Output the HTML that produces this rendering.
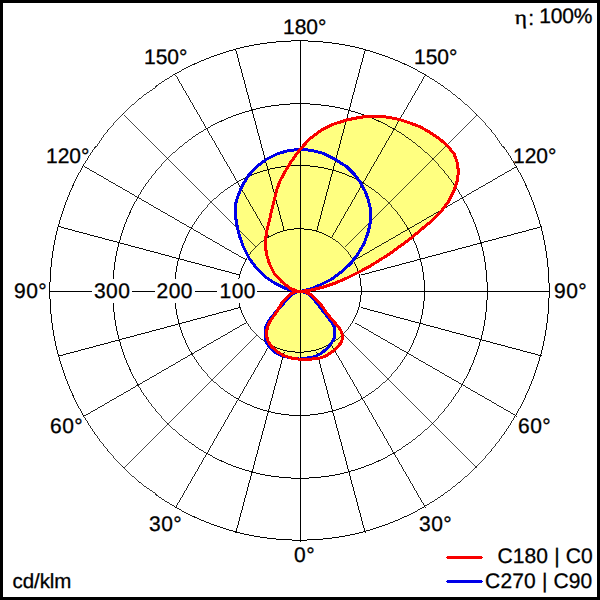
<!DOCTYPE html>
<html><head><meta charset="utf-8"><title>Polar diagram</title>
<style>
html,body{margin:0;padding:0;background:#fff;}
body{width:600px;height:600px;overflow:hidden;font-family:"Liberation Sans",sans-serif;}
svg{display:block;position:absolute;left:0;top:0;}
text{fill:#000;font-family:"Liberation Sans",sans-serif;text-rendering:geometricPrecision;}
</style></head><body>
<svg width="600" height="600" viewBox="0 0 600 600">
<rect x="0" y="0" width="600" height="600" fill="#fff"/>
<g fill="#ffff80" stroke="none">
<polygon points="300.5,291.5 293.3,290.8 285.0,288.3 275.0,283.3 265.0,276.7 256.7,268.3 249.2,258.3 243.3,246.7 239.2,235.0 236.5,223.3 235.2,213.0 235.3,205.0 237.5,197.5 241.7,186.7 248.3,175.8 256.7,166.7 266.7,159.2 277.5,153.8 289.0,150.5 300.0,149.5 311.0,150.2 323.3,153.3 335.0,159.2 346.7,166.7 355.0,175.0 360.0,181.7 365.0,191.0 368.3,200.0 370.8,210.0 370.8,220.0 368.3,231.7 364.2,243.3 358.3,253.3 350.8,263.3 341.7,271.7 331.7,279.2 320.0,285.0 310.0,289.2 300.5,291.5"/>
<polygon points="300.5,291.5 311.8,289.9 323.5,287.0 335.4,283.0 347.1,278.0 358.7,272.2 370.4,265.9 380.4,259.7 390.4,253.3 402.1,244.7 412.1,237.2 422.1,228.8 432.1,220.5 440.4,212.2 448.3,201.7 454.2,190.0 457.5,180.0 458.3,171.5 457.5,163.3 454.2,154.2 448.3,146.7 440.0,139.2 430.0,132.5 420.0,126.7 410.0,123.0 400.0,119.7 390.0,117.5 380.0,116.3 370.0,116.1 360.0,117.3 346.7,120.0 333.3,124.2 321.7,130.0 310.0,138.5 300.0,149.5 291.7,160.8 285.0,171.7 280.0,181.0 276.7,190.0 274.2,200.0 271.7,210.0 269.2,221.5 266.5,232.0 265.3,243.3 266.3,253.3 269.2,263.3 274.2,273.3 281.7,281.7 290.0,288.3 296.7,291.0 300.5,291.5"/>
<polygon points="300.5,291.4 295.5,292.3 291.0,295.3 287.0,299.6 283.0,304.0 279.5,308.2 275.5,312.5 272.0,316.5 268.8,321.0 266.3,325.5 265.0,331.0 265.0,337.0 266.6,342.5 270.2,348.0 275.5,352.6 281.8,355.6 289.2,357.7 295.0,358.8 300.4,359.1 305.5,358.2 314.7,356.7 321.3,353.3 327.2,348.3 331.3,343.3 334.2,338.3 335.0,333.3 334.7,328.3 333.0,324.2 330.0,320.0 326.5,315.5 323.0,311.0 319.5,306.5 316.0,302.0 312.5,297.8 308.5,294.3 304.5,292.2 300.5,291.4"/>
<polygon points="300.5,291.4 294.2,292.1 289.2,295.0 285.0,299.2 281.7,303.3 279.2,307.5 276.7,311.7 273.8,315.8 271.0,320.0 268.3,325.0 266.7,330.8 266.7,336.7 268.3,341.7 271.7,346.7 276.7,351.2 282.5,355.0 289.2,357.5 295.0,358.8 300.4,359.2 306.3,359.2 318.0,358.8 326.3,355.8 334.7,350.0 341.3,342.5 343.0,336.7 340.7,330.0 336.3,324.4 333.0,320.8 329.7,316.7 326.3,312.5 323.0,307.5 319.7,303.3 315.9,299.2 311.3,295.0 306.3,292.1 300.5,291.4"/>
</g>
<g fill="none" stroke="#000" stroke-width="1" shape-rendering="crispEdges">
<path d="M361.20 290.18A61.7 61.7 0 0 1 360.94 296.20" stroke-width="0.999"/><path d="M360.99 295.56A61.7 61.7 0 0 1 360.21 301.53" stroke-width="0.991"/><path d="M360.32 300.90A61.7 61.7 0 0 1 359.01 306.78" stroke-width="0.976"/><path d="M359.18 306.16A61.7 61.7 0 0 1 357.37 311.91" stroke-width="0.954"/><path d="M357.59 311.30A61.7 61.7 0 0 1 355.28 316.87" stroke-width="0.924"/><path d="M355.55 316.28A61.7 61.7 0 0 1 352.77 321.63" stroke-width="0.887"/><path d="M353.09 321.07A61.7 61.7 0 0 1 349.86 326.15" stroke-width="0.843"/><path d="M350.23 325.62A61.7 61.7 0 0 1 346.56 330.41" stroke-width="0.793"/><path d="M346.97 329.91A61.7 61.7 0 0 1 342.90 334.36" stroke-width="0.737"/><path d="M343.36 333.90A61.7 61.7 0 0 1 338.91 337.97" stroke-width="0.737"/><path d="M339.41 337.56A61.7 61.7 0 0 1 334.62 341.23" stroke-width="0.793"/><path d="M335.15 340.86A61.7 61.7 0 0 1 330.07 344.09" stroke-width="0.843"/><path d="M330.63 343.77A61.7 61.7 0 0 1 325.28 346.55" stroke-width="0.887"/><path d="M325.87 346.28A61.7 61.7 0 0 1 320.30 348.59" stroke-width="0.924"/><path d="M320.91 348.37A61.7 61.7 0 0 1 315.16 350.18" stroke-width="0.954"/><path d="M315.78 350.01A61.7 61.7 0 0 1 309.90 351.32" stroke-width="0.976"/><path d="M310.53 351.21A61.7 61.7 0 0 1 304.56 351.99" stroke-width="0.991"/><path d="M305.20 351.94A61.7 61.7 0 0 1 299.18 352.20" stroke-width="0.999"/><path d="M299.82 352.20A61.7 61.7 0 0 1 293.80 351.94" stroke-width="0.999"/><path d="M294.44 351.99A61.7 61.7 0 0 1 288.47 351.21" stroke-width="0.991"/><path d="M289.10 351.32A61.7 61.7 0 0 1 283.22 350.01" stroke-width="0.976"/><path d="M283.84 350.18A61.7 61.7 0 0 1 278.09 348.37" stroke-width="0.954"/><path d="M278.70 348.59A61.7 61.7 0 0 1 273.13 346.28" stroke-width="0.924"/><path d="M273.72 346.55A61.7 61.7 0 0 1 268.37 343.77" stroke-width="0.887"/><path d="M268.93 344.09A61.7 61.7 0 0 1 263.85 340.86" stroke-width="0.843"/><path d="M264.38 341.23A61.7 61.7 0 0 1 259.59 337.56" stroke-width="0.793"/><path d="M260.09 337.97A61.7 61.7 0 0 1 255.64 333.90" stroke-width="0.737"/><path d="M256.10 334.36A61.7 61.7 0 0 1 252.03 329.91" stroke-width="0.737"/><path d="M252.44 330.41A61.7 61.7 0 0 1 248.77 325.62" stroke-width="0.793"/><path d="M249.14 326.15A61.7 61.7 0 0 1 245.91 321.07" stroke-width="0.843"/><path d="M246.23 321.63A61.7 61.7 0 0 1 243.45 316.28" stroke-width="0.887"/><path d="M243.72 316.87A61.7 61.7 0 0 1 241.41 311.30" stroke-width="0.924"/><path d="M241.63 311.91A61.7 61.7 0 0 1 239.82 306.16" stroke-width="0.954"/><path d="M239.99 306.78A61.7 61.7 0 0 1 238.68 300.90" stroke-width="0.976"/><path d="M238.79 301.53A61.7 61.7 0 0 1 238.01 295.56" stroke-width="0.991"/><path d="M238.06 296.20A61.7 61.7 0 0 1 237.80 290.18" stroke-width="0.999"/><path d="M237.80 290.82A61.7 61.7 0 0 1 238.06 284.80" stroke-width="0.999"/><path d="M238.01 285.44A61.7 61.7 0 0 1 238.79 279.47" stroke-width="0.991"/><path d="M238.68 280.10A61.7 61.7 0 0 1 239.99 274.22" stroke-width="0.976"/><path d="M239.82 274.84A61.7 61.7 0 0 1 241.63 269.09" stroke-width="0.954"/><path d="M241.41 269.70A61.7 61.7 0 0 1 243.72 264.13" stroke-width="0.924"/><path d="M243.45 264.72A61.7 61.7 0 0 1 246.23 259.37" stroke-width="0.887"/><path d="M245.91 259.93A61.7 61.7 0 0 1 249.14 254.85" stroke-width="0.843"/><path d="M248.77 255.38A61.7 61.7 0 0 1 252.44 250.59" stroke-width="0.793"/><path d="M252.03 251.09A61.7 61.7 0 0 1 256.10 246.64" stroke-width="0.737"/><path d="M255.64 247.10A61.7 61.7 0 0 1 260.09 243.03" stroke-width="0.737"/><path d="M259.59 243.44A61.7 61.7 0 0 1 264.38 239.77" stroke-width="0.793"/><path d="M263.85 240.14A61.7 61.7 0 0 1 268.93 236.91" stroke-width="0.843"/><path d="M268.37 237.23A61.7 61.7 0 0 1 273.72 234.45" stroke-width="0.887"/><path d="M273.13 234.72A61.7 61.7 0 0 1 278.70 232.41" stroke-width="0.924"/><path d="M278.09 232.63A61.7 61.7 0 0 1 283.84 230.82" stroke-width="0.954"/><path d="M283.22 230.99A61.7 61.7 0 0 1 289.10 229.68" stroke-width="0.976"/><path d="M288.47 229.79A61.7 61.7 0 0 1 294.44 229.01" stroke-width="0.991"/><path d="M293.80 229.06A61.7 61.7 0 0 1 299.82 228.80" stroke-width="0.999"/><path d="M299.18 228.80A61.7 61.7 0 0 1 305.20 229.06" stroke-width="0.999"/><path d="M304.56 229.01A61.7 61.7 0 0 1 310.53 229.79" stroke-width="0.991"/><path d="M309.90 229.68A61.7 61.7 0 0 1 315.78 230.99" stroke-width="0.976"/><path d="M315.16 230.82A61.7 61.7 0 0 1 320.91 232.63" stroke-width="0.954"/><path d="M320.30 232.41A61.7 61.7 0 0 1 325.87 234.72" stroke-width="0.924"/><path d="M325.28 234.45A61.7 61.7 0 0 1 330.63 237.23" stroke-width="0.887"/><path d="M330.07 236.91A61.7 61.7 0 0 1 335.15 240.14" stroke-width="0.843"/><path d="M334.62 239.77A61.7 61.7 0 0 1 339.41 243.44" stroke-width="0.793"/><path d="M338.91 243.03A61.7 61.7 0 0 1 343.36 247.10" stroke-width="0.737"/><path d="M342.90 246.64A61.7 61.7 0 0 1 346.97 251.09" stroke-width="0.737"/><path d="M346.56 250.59A61.7 61.7 0 0 1 350.23 255.38" stroke-width="0.793"/><path d="M349.86 254.85A61.7 61.7 0 0 1 353.09 259.93" stroke-width="0.843"/><path d="M352.77 259.37A61.7 61.7 0 0 1 355.55 264.72" stroke-width="0.887"/><path d="M355.28 264.13A61.7 61.7 0 0 1 357.59 269.70" stroke-width="0.924"/><path d="M357.37 269.09A61.7 61.7 0 0 1 359.18 274.84" stroke-width="0.954"/><path d="M359.01 274.22A61.7 61.7 0 0 1 360.32 280.10" stroke-width="0.976"/><path d="M360.21 279.47A61.7 61.7 0 0 1 360.99 285.44" stroke-width="0.991"/><path d="M360.94 284.80A61.7 61.7 0 0 1 361.20 290.82" stroke-width="0.999"/><path d="M424.44 289.85A124.94 124.94 0 0 1 423.91 302.04" stroke-width="0.999"/><path d="M424.02 300.74A124.94 124.94 0 0 1 422.43 312.84" stroke-width="0.991"/><path d="M422.65 311.55A124.94 124.94 0 0 1 420.01 323.47" stroke-width="0.976"/><path d="M420.35 322.20A124.94 124.94 0 0 1 416.68 333.85" stroke-width="0.954"/><path d="M417.13 332.62A124.94 124.94 0 0 1 412.46 343.89" stroke-width="0.924"/><path d="M413.01 342.71A124.94 124.94 0 0 1 407.37 353.54" stroke-width="0.887"/><path d="M408.03 352.40A124.94 124.94 0 0 1 401.47 362.70" stroke-width="0.843"/><path d="M402.22 361.63A124.94 124.94 0 0 1 394.79 371.31" stroke-width="0.793"/><path d="M395.63 370.31A124.94 124.94 0 0 1 387.38 379.31" stroke-width="0.737"/><path d="M388.31 378.38A124.94 124.94 0 0 1 379.31 386.63" stroke-width="0.737"/><path d="M380.31 385.79A124.94 124.94 0 0 1 370.63 393.22" stroke-width="0.793"/><path d="M371.70 392.47A124.94 124.94 0 0 1 361.40 399.03" stroke-width="0.843"/><path d="M362.54 398.37A124.94 124.94 0 0 1 351.71 404.01" stroke-width="0.887"/><path d="M352.89 403.46A124.94 124.94 0 0 1 341.62 408.13" stroke-width="0.924"/><path d="M342.85 407.68A124.94 124.94 0 0 1 331.20 411.35" stroke-width="0.954"/><path d="M332.47 411.01A124.94 124.94 0 0 1 320.55 413.65" stroke-width="0.976"/><path d="M321.84 413.43A124.94 124.94 0 0 1 309.74 415.02" stroke-width="0.991"/><path d="M311.04 414.91A124.94 124.94 0 0 1 298.85 415.44" stroke-width="0.999"/><path d="M300.15 415.44A124.94 124.94 0 0 1 287.96 414.91" stroke-width="0.999"/><path d="M289.26 415.02A124.94 124.94 0 0 1 277.16 413.43" stroke-width="0.991"/><path d="M278.45 413.65A124.94 124.94 0 0 1 266.53 411.01" stroke-width="0.976"/><path d="M267.80 411.35A124.94 124.94 0 0 1 256.15 407.68" stroke-width="0.954"/><path d="M257.38 408.13A124.94 124.94 0 0 1 246.11 403.46" stroke-width="0.924"/><path d="M247.29 404.01A124.94 124.94 0 0 1 236.46 398.37" stroke-width="0.887"/><path d="M237.60 399.03A124.94 124.94 0 0 1 227.30 392.47" stroke-width="0.843"/><path d="M228.37 393.22A124.94 124.94 0 0 1 218.69 385.79" stroke-width="0.793"/><path d="M219.69 386.63A124.94 124.94 0 0 1 210.69 378.38" stroke-width="0.737"/><path d="M211.62 379.31A124.94 124.94 0 0 1 203.37 370.31" stroke-width="0.737"/><path d="M204.21 371.31A124.94 124.94 0 0 1 196.78 361.63" stroke-width="0.793"/><path d="M197.53 362.70A124.94 124.94 0 0 1 190.97 352.40" stroke-width="0.843"/><path d="M191.63 353.54A124.94 124.94 0 0 1 185.99 342.71" stroke-width="0.887"/><path d="M186.54 343.89A124.94 124.94 0 0 1 181.87 332.62" stroke-width="0.924"/><path d="M182.32 333.85A124.94 124.94 0 0 1 178.65 322.20" stroke-width="0.954"/><path d="M178.99 323.47A124.94 124.94 0 0 1 176.35 311.55" stroke-width="0.976"/><path d="M176.57 312.84A124.94 124.94 0 0 1 174.98 300.74" stroke-width="0.991"/><path d="M175.09 302.04A124.94 124.94 0 0 1 174.56 289.85" stroke-width="0.999"/><path d="M174.56 291.15A124.94 124.94 0 0 1 175.09 278.96" stroke-width="0.999"/><path d="M174.98 280.26A124.94 124.94 0 0 1 176.57 268.16" stroke-width="0.991"/><path d="M176.35 269.45A124.94 124.94 0 0 1 178.99 257.53" stroke-width="0.976"/><path d="M178.65 258.80A124.94 124.94 0 0 1 182.32 247.15" stroke-width="0.954"/><path d="M181.87 248.38A124.94 124.94 0 0 1 186.54 237.11" stroke-width="0.924"/><path d="M185.99 238.29A124.94 124.94 0 0 1 191.63 227.46" stroke-width="0.887"/><path d="M190.97 228.60A124.94 124.94 0 0 1 197.53 218.30" stroke-width="0.843"/><path d="M196.78 219.37A124.94 124.94 0 0 1 204.21 209.69" stroke-width="0.793"/><path d="M203.37 210.69A124.94 124.94 0 0 1 211.62 201.69" stroke-width="0.737"/><path d="M210.69 202.62A124.94 124.94 0 0 1 219.69 194.37" stroke-width="0.737"/><path d="M218.69 195.21A124.94 124.94 0 0 1 228.37 187.78" stroke-width="0.793"/><path d="M227.30 188.53A124.94 124.94 0 0 1 237.60 181.97" stroke-width="0.843"/><path d="M236.46 182.63A124.94 124.94 0 0 1 247.29 176.99" stroke-width="0.887"/><path d="M246.11 177.54A124.94 124.94 0 0 1 257.38 172.87" stroke-width="0.924"/><path d="M256.15 173.32A124.94 124.94 0 0 1 267.80 169.65" stroke-width="0.954"/><path d="M266.53 169.99A124.94 124.94 0 0 1 278.45 167.35" stroke-width="0.976"/><path d="M277.16 167.57A124.94 124.94 0 0 1 289.26 165.98" stroke-width="0.991"/><path d="M287.96 166.09A124.94 124.94 0 0 1 300.15 165.56" stroke-width="0.999"/><path d="M298.85 165.56A124.94 124.94 0 0 1 311.04 166.09" stroke-width="0.999"/><path d="M309.74 165.98A124.94 124.94 0 0 1 321.84 167.57" stroke-width="0.991"/><path d="M320.55 167.35A124.94 124.94 0 0 1 332.47 169.99" stroke-width="0.976"/><path d="M331.20 169.65A124.94 124.94 0 0 1 342.85 173.32" stroke-width="0.954"/><path d="M341.62 172.87A124.94 124.94 0 0 1 352.89 177.54" stroke-width="0.924"/><path d="M351.71 176.99A124.94 124.94 0 0 1 362.54 182.63" stroke-width="0.887"/><path d="M361.40 181.97A124.94 124.94 0 0 1 371.70 188.53" stroke-width="0.843"/><path d="M370.63 187.78A124.94 124.94 0 0 1 380.31 195.21" stroke-width="0.793"/><path d="M379.31 194.37A124.94 124.94 0 0 1 388.31 202.62" stroke-width="0.737"/><path d="M387.38 201.69A124.94 124.94 0 0 1 395.63 210.69" stroke-width="0.737"/><path d="M394.79 209.69A124.94 124.94 0 0 1 402.22 219.37" stroke-width="0.793"/><path d="M401.47 218.30A124.94 124.94 0 0 1 408.03 228.60" stroke-width="0.843"/><path d="M407.37 227.46A124.94 124.94 0 0 1 413.01 238.29" stroke-width="0.887"/><path d="M412.46 237.11A124.94 124.94 0 0 1 417.13 248.38" stroke-width="0.924"/><path d="M416.68 247.15A124.94 124.94 0 0 1 420.35 258.80" stroke-width="0.954"/><path d="M420.01 257.53A124.94 124.94 0 0 1 422.65 269.45" stroke-width="0.976"/><path d="M422.43 268.16A124.94 124.94 0 0 1 424.02 280.26" stroke-width="0.991"/><path d="M423.91 278.96A124.94 124.94 0 0 1 424.44 291.15" stroke-width="0.999"/><path d="M487.27 290.02A187.27 187.27 0 0 1 486.47 308.30" stroke-width="0.999"/><path d="M486.64 306.34A187.27 187.27 0 0 1 484.25 324.48" stroke-width="0.991"/><path d="M484.59 322.55A187.27 187.27 0 0 1 480.63 340.42" stroke-width="0.976"/><path d="M481.14 338.52A187.27 187.27 0 0 1 475.64 355.97" stroke-width="0.954"/><path d="M476.31 354.13A187.27 187.27 0 0 1 469.31 371.03" stroke-width="0.924"/><path d="M470.14 369.25A187.27 187.27 0 0 1 461.69 385.48" stroke-width="0.887"/><path d="M462.67 383.78A187.27 187.27 0 0 1 452.84 399.22" stroke-width="0.843"/><path d="M453.96 397.61A187.27 187.27 0 0 1 442.82 412.12" stroke-width="0.793"/><path d="M444.09 410.62A187.27 187.27 0 0 1 431.72 424.11" stroke-width="0.737"/><path d="M433.11 422.72A187.27 187.27 0 0 1 419.62 435.09" stroke-width="0.737"/><path d="M421.12 433.82A187.27 187.27 0 0 1 406.61 444.96" stroke-width="0.793"/><path d="M408.22 443.84A187.27 187.27 0 0 1 392.78 453.67" stroke-width="0.843"/><path d="M394.48 452.69A187.27 187.27 0 0 1 378.25 461.14" stroke-width="0.887"/><path d="M380.03 460.31A187.27 187.27 0 0 1 363.13 467.31" stroke-width="0.924"/><path d="M364.97 466.64A187.27 187.27 0 0 1 347.52 472.14" stroke-width="0.954"/><path d="M349.42 471.63A187.27 187.27 0 0 1 331.55 475.59" stroke-width="0.976"/><path d="M333.48 475.25A187.27 187.27 0 0 1 315.34 477.64" stroke-width="0.991"/><path d="M317.30 477.47A187.27 187.27 0 0 1 299.02 478.27" stroke-width="0.999"/><path d="M300.98 478.27A187.27 187.27 0 0 1 282.70 477.47" stroke-width="0.999"/><path d="M284.66 477.64A187.27 187.27 0 0 1 266.52 475.25" stroke-width="0.991"/><path d="M268.45 475.59A187.27 187.27 0 0 1 250.58 471.63" stroke-width="0.976"/><path d="M252.48 472.14A187.27 187.27 0 0 1 235.03 466.64" stroke-width="0.954"/><path d="M236.87 467.31A187.27 187.27 0 0 1 219.97 460.31" stroke-width="0.924"/><path d="M221.75 461.14A187.27 187.27 0 0 1 205.52 452.69" stroke-width="0.887"/><path d="M207.22 453.67A187.27 187.27 0 0 1 191.78 443.84" stroke-width="0.843"/><path d="M193.39 444.96A187.27 187.27 0 0 1 178.88 433.82" stroke-width="0.793"/><path d="M180.38 435.09A187.27 187.27 0 0 1 166.89 422.72" stroke-width="0.737"/><path d="M168.28 424.11A187.27 187.27 0 0 1 155.91 410.62" stroke-width="0.737"/><path d="M157.18 412.12A187.27 187.27 0 0 1 146.04 397.61" stroke-width="0.793"/><path d="M147.16 399.22A187.27 187.27 0 0 1 137.33 383.78" stroke-width="0.843"/><path d="M138.31 385.48A187.27 187.27 0 0 1 129.86 369.25" stroke-width="0.887"/><path d="M130.69 371.03A187.27 187.27 0 0 1 123.69 354.13" stroke-width="0.924"/><path d="M124.36 355.97A187.27 187.27 0 0 1 118.86 338.52" stroke-width="0.954"/><path d="M119.37 340.42A187.27 187.27 0 0 1 115.41 322.55" stroke-width="0.976"/><path d="M115.75 324.48A187.27 187.27 0 0 1 113.36 306.34" stroke-width="0.991"/><path d="M113.53 308.30A187.27 187.27 0 0 1 112.73 290.02" stroke-width="0.999"/><path d="M112.73 291.98A187.27 187.27 0 0 1 113.53 273.70" stroke-width="0.999"/><path d="M113.36 275.66A187.27 187.27 0 0 1 115.75 257.52" stroke-width="0.991"/><path d="M115.41 259.45A187.27 187.27 0 0 1 119.37 241.58" stroke-width="0.976"/><path d="M118.86 243.48A187.27 187.27 0 0 1 124.36 226.03" stroke-width="0.954"/><path d="M123.69 227.87A187.27 187.27 0 0 1 130.69 210.97" stroke-width="0.924"/><path d="M129.86 212.75A187.27 187.27 0 0 1 138.31 196.52" stroke-width="0.887"/><path d="M137.33 198.22A187.27 187.27 0 0 1 147.16 182.78" stroke-width="0.843"/><path d="M146.04 184.39A187.27 187.27 0 0 1 157.18 169.88" stroke-width="0.793"/><path d="M155.91 171.38A187.27 187.27 0 0 1 168.28 157.89" stroke-width="0.737"/><path d="M166.89 159.28A187.27 187.27 0 0 1 180.38 146.91" stroke-width="0.737"/><path d="M178.88 148.18A187.27 187.27 0 0 1 193.39 137.04" stroke-width="0.793"/><path d="M191.78 138.16A187.27 187.27 0 0 1 207.22 128.33" stroke-width="0.843"/><path d="M205.52 129.31A187.27 187.27 0 0 1 221.75 120.86" stroke-width="0.887"/><path d="M219.97 121.69A187.27 187.27 0 0 1 236.87 114.69" stroke-width="0.924"/><path d="M235.03 115.36A187.27 187.27 0 0 1 252.48 109.86" stroke-width="0.954"/><path d="M250.58 110.37A187.27 187.27 0 0 1 268.45 106.41" stroke-width="0.976"/><path d="M266.52 106.75A187.27 187.27 0 0 1 284.66 104.36" stroke-width="0.991"/><path d="M282.70 104.53A187.27 187.27 0 0 1 300.98 103.73" stroke-width="0.999"/><path d="M299.02 103.73A187.27 187.27 0 0 1 317.30 104.53" stroke-width="0.999"/><path d="M315.34 104.36A187.27 187.27 0 0 1 333.48 106.75" stroke-width="0.991"/><path d="M331.55 106.41A187.27 187.27 0 0 1 349.42 110.37" stroke-width="0.976"/><path d="M347.52 109.86A187.27 187.27 0 0 1 364.97 115.36" stroke-width="0.954"/><path d="M363.13 114.69A187.27 187.27 0 0 1 380.03 121.69" stroke-width="0.924"/><path d="M378.25 120.86A187.27 187.27 0 0 1 394.48 129.31" stroke-width="0.887"/><path d="M392.78 128.33A187.27 187.27 0 0 1 408.22 138.16" stroke-width="0.843"/><path d="M406.61 137.04A187.27 187.27 0 0 1 421.12 148.18" stroke-width="0.793"/><path d="M419.62 146.91A187.27 187.27 0 0 1 433.11 159.28" stroke-width="0.737"/><path d="M431.72 157.89A187.27 187.27 0 0 1 444.09 171.38" stroke-width="0.737"/><path d="M442.82 169.88A187.27 187.27 0 0 1 453.96 184.39" stroke-width="0.793"/><path d="M452.84 182.78A187.27 187.27 0 0 1 462.67 198.22" stroke-width="0.843"/><path d="M461.69 196.52A187.27 187.27 0 0 1 470.14 212.75" stroke-width="0.887"/><path d="M469.31 210.97A187.27 187.27 0 0 1 476.31 227.87" stroke-width="0.924"/><path d="M475.64 226.03A187.27 187.27 0 0 1 481.14 243.48" stroke-width="0.954"/><path d="M480.63 241.58A187.27 187.27 0 0 1 484.59 259.45" stroke-width="0.976"/><path d="M484.25 257.52A187.27 187.27 0 0 1 486.64 275.66" stroke-width="0.991"/><path d="M486.47 273.70A187.27 187.27 0 0 1 487.27 291.98" stroke-width="0.999"/><path d="M549.18 289.19A249.68 249.68 0 0 1 548.11 313.56" stroke-width="0.999"/><path d="M548.34 310.96A249.68 249.68 0 0 1 545.16 335.14" stroke-width="0.991"/><path d="M545.61 332.57A249.68 249.68 0 0 1 540.33 356.38" stroke-width="0.976"/><path d="M541.01 353.86A249.68 249.68 0 0 1 533.67 377.12" stroke-width="0.954"/><path d="M534.57 374.67A249.68 249.68 0 0 1 525.23 397.20" stroke-width="0.924"/><path d="M526.34 394.83A249.68 249.68 0 0 1 515.07 416.47" stroke-width="0.887"/><path d="M516.38 414.21A249.68 249.68 0 0 1 503.27 434.78" stroke-width="0.843"/><path d="M504.77 432.64A249.68 249.68 0 0 1 489.92 451.99" stroke-width="0.793"/><path d="M491.60 449.99A249.68 249.68 0 0 1 475.12 467.97" stroke-width="0.737"/><path d="M476.97 466.12A249.68 249.68 0 0 1 458.99 482.60" stroke-width="0.737"/><path d="M460.99 480.92A249.68 249.68 0 0 1 441.64 495.77" stroke-width="0.793"/><path d="M443.78 494.27A249.68 249.68 0 0 1 423.21 507.38" stroke-width="0.843"/><path d="M425.47 506.07A249.68 249.68 0 0 1 403.83 517.34" stroke-width="0.887"/><path d="M406.20 516.23A249.68 249.68 0 0 1 383.67 525.57" stroke-width="0.924"/><path d="M386.12 524.67A249.68 249.68 0 0 1 362.86 532.01" stroke-width="0.954"/><path d="M365.38 531.33A249.68 249.68 0 0 1 341.57 536.61" stroke-width="0.976"/><path d="M344.14 536.16A249.68 249.68 0 0 1 319.96 539.34" stroke-width="0.991"/><path d="M322.56 539.11A249.68 249.68 0 0 1 298.19 540.18" stroke-width="0.999"/><path d="M300.81 540.18A249.68 249.68 0 0 1 276.44 539.11" stroke-width="0.999"/><path d="M279.04 539.34A249.68 249.68 0 0 1 254.86 536.16" stroke-width="0.991"/><path d="M257.43 536.61A249.68 249.68 0 0 1 233.62 531.33" stroke-width="0.976"/><path d="M236.14 532.01A249.68 249.68 0 0 1 212.88 524.67" stroke-width="0.954"/><path d="M215.33 525.57A249.68 249.68 0 0 1 192.80 516.23" stroke-width="0.924"/><path d="M195.17 517.34A249.68 249.68 0 0 1 173.53 506.07" stroke-width="0.887"/><path d="M175.79 507.38A249.68 249.68 0 0 1 155.22 494.27" stroke-width="0.843"/><path d="M157.36 495.77A249.68 249.68 0 0 1 138.01 480.92" stroke-width="0.793"/><path d="M140.01 482.60A249.68 249.68 0 0 1 122.03 466.12" stroke-width="0.737"/><path d="M123.88 467.97A249.68 249.68 0 0 1 107.40 449.99" stroke-width="0.737"/><path d="M109.08 451.99A249.68 249.68 0 0 1 94.23 432.64" stroke-width="0.793"/><path d="M95.73 434.78A249.68 249.68 0 0 1 82.62 414.21" stroke-width="0.843"/><path d="M83.93 416.47A249.68 249.68 0 0 1 72.66 394.83" stroke-width="0.887"/><path d="M73.77 397.20A249.68 249.68 0 0 1 64.43 374.67" stroke-width="0.924"/><path d="M65.33 377.12A249.68 249.68 0 0 1 57.99 353.86" stroke-width="0.954"/><path d="M58.67 356.38A249.68 249.68 0 0 1 53.39 332.57" stroke-width="0.976"/><path d="M53.84 335.14A249.68 249.68 0 0 1 50.66 310.96" stroke-width="0.991"/><path d="M50.89 313.56A249.68 249.68 0 0 1 49.82 289.19" stroke-width="0.999"/><path d="M49.82 291.81A249.68 249.68 0 0 1 50.89 267.44" stroke-width="0.999"/><path d="M50.66 270.04A249.68 249.68 0 0 1 53.84 245.86" stroke-width="0.991"/><path d="M53.39 248.43A249.68 249.68 0 0 1 58.67 224.62" stroke-width="0.976"/><path d="M57.99 227.14A249.68 249.68 0 0 1 65.33 203.88" stroke-width="0.954"/><path d="M64.43 206.33A249.68 249.68 0 0 1 73.77 183.80" stroke-width="0.924"/><path d="M72.66 186.17A249.68 249.68 0 0 1 83.93 164.53" stroke-width="0.887"/><path d="M82.62 166.79A249.68 249.68 0 0 1 95.73 146.22" stroke-width="0.843"/><path d="M94.23 148.36A249.68 249.68 0 0 1 109.08 129.01" stroke-width="0.793"/><path d="M107.40 131.01A249.68 249.68 0 0 1 123.88 113.03" stroke-width="0.737"/><path d="M122.03 114.88A249.68 249.68 0 0 1 140.01 98.40" stroke-width="0.737"/><path d="M138.01 100.08A249.68 249.68 0 0 1 157.36 85.23" stroke-width="0.793"/><path d="M155.22 86.73A249.68 249.68 0 0 1 175.79 73.62" stroke-width="0.843"/><path d="M173.53 74.93A249.68 249.68 0 0 1 195.17 63.66" stroke-width="0.887"/><path d="M192.80 64.77A249.68 249.68 0 0 1 215.33 55.43" stroke-width="0.924"/><path d="M212.88 56.33A249.68 249.68 0 0 1 236.14 48.99" stroke-width="0.954"/><path d="M233.62 49.67A249.68 249.68 0 0 1 257.43 44.39" stroke-width="0.976"/><path d="M254.86 44.84A249.68 249.68 0 0 1 279.04 41.66" stroke-width="0.991"/><path d="M276.44 41.89A249.68 249.68 0 0 1 300.81 40.82" stroke-width="0.999"/><path d="M298.19 40.82A249.68 249.68 0 0 1 322.56 41.89" stroke-width="0.999"/><path d="M319.96 41.66A249.68 249.68 0 0 1 344.14 44.84" stroke-width="0.991"/><path d="M341.57 44.39A249.68 249.68 0 0 1 365.38 49.67" stroke-width="0.976"/><path d="M362.86 48.99A249.68 249.68 0 0 1 386.12 56.33" stroke-width="0.954"/><path d="M383.67 55.43A249.68 249.68 0 0 1 406.20 64.77" stroke-width="0.924"/><path d="M403.83 63.66A249.68 249.68 0 0 1 425.47 74.93" stroke-width="0.887"/><path d="M423.21 73.62A249.68 249.68 0 0 1 443.78 86.73" stroke-width="0.843"/><path d="M441.64 85.23A249.68 249.68 0 0 1 460.99 100.08" stroke-width="0.793"/><path d="M458.99 98.40A249.68 249.68 0 0 1 476.97 114.88" stroke-width="0.737"/><path d="M475.12 113.03A249.68 249.68 0 0 1 491.60 131.01" stroke-width="0.737"/><path d="M489.92 129.01A249.68 249.68 0 0 1 504.77 148.36" stroke-width="0.793"/><path d="M503.27 146.22A249.68 249.68 0 0 1 516.38 166.79" stroke-width="0.843"/><path d="M515.07 164.53A249.68 249.68 0 0 1 526.34 186.17" stroke-width="0.887"/><path d="M525.23 183.80A249.68 249.68 0 0 1 534.57 206.33" stroke-width="0.924"/><path d="M533.67 203.88A249.68 249.68 0 0 1 541.01 227.14" stroke-width="0.954"/><path d="M540.33 224.62A249.68 249.68 0 0 1 545.61 248.43" stroke-width="0.976"/><path d="M545.16 245.86A249.68 249.68 0 0 1 548.34 270.04" stroke-width="0.991"/><path d="M548.11 267.44A249.68 249.68 0 0 1 549.18 291.81" stroke-width="0.999"/>
<line x1="300.5" y1="40" x2="300.5" y2="542"/>
<line x1="49" y1="291.5" x2="550" y2="291.5"/>
<line x1="316.68" y1="351.67" x2="365.20" y2="532.78" stroke-width="0.966"/><line x1="331.75" y1="345.43" x2="425.50" y2="507.81" stroke-width="0.866"/><line x1="344.69" y1="335.49" x2="477.28" y2="468.08" stroke-width="0.707"/><line x1="354.63" y1="322.55" x2="517.01" y2="416.30" stroke-width="0.866"/><line x1="360.87" y1="307.48" x2="541.98" y2="356.00" stroke-width="0.966"/><line x1="360.87" y1="275.12" x2="541.98" y2="226.60" stroke-width="0.966"/><line x1="354.63" y1="260.05" x2="517.01" y2="166.30" stroke-width="0.866"/><line x1="344.69" y1="247.11" x2="477.28" y2="114.52" stroke-width="0.707"/><line x1="331.75" y1="237.17" x2="425.50" y2="74.79" stroke-width="0.866"/><line x1="316.68" y1="230.93" x2="365.20" y2="49.82" stroke-width="0.966"/><line x1="284.32" y1="230.93" x2="235.80" y2="49.82" stroke-width="0.966"/><line x1="269.25" y1="237.17" x2="175.50" y2="74.79" stroke-width="0.866"/><line x1="256.31" y1="247.11" x2="123.72" y2="114.52" stroke-width="0.707"/><line x1="246.37" y1="260.05" x2="83.99" y2="166.30" stroke-width="0.866"/><line x1="240.13" y1="275.12" x2="59.02" y2="226.60" stroke-width="0.966"/><line x1="240.13" y1="307.48" x2="59.02" y2="356.00" stroke-width="0.966"/><line x1="246.37" y1="322.55" x2="83.99" y2="416.30" stroke-width="0.866"/><line x1="256.31" y1="335.49" x2="123.72" y2="468.08" stroke-width="0.707"/><line x1="269.25" y1="345.43" x2="175.50" y2="507.81" stroke-width="0.866"/><line x1="284.32" y1="351.67" x2="235.80" y2="532.78" stroke-width="0.966"/>
</g>
<g fill="#fff" stroke="none" shape-rendering="crispEdges">
<rect x="92" y="279" width="40" height="24"/>
<rect x="155" y="279" width="40" height="24"/>
<rect x="217" y="279" width="40" height="24"/>
</g>
<g fill="none" stroke-width="3" stroke-linejoin="round" stroke-linecap="round" shape-rendering="crispEdges">
<polyline stroke="#0000e8" points="300.5,291.5 293.3,290.8 285.0,288.3 275.0,283.3 265.0,276.7 256.7,268.3 249.2,258.3 243.3,246.7 239.2,235.0 236.5,223.3 235.2,213.0 235.3,205.0 237.5,197.5 241.7,186.7 248.3,175.8 256.7,166.7 266.7,159.2 277.5,153.8 289.0,150.5 300.0,149.5 311.0,150.2 323.3,153.3 335.0,159.2 346.7,166.7 355.0,175.0 360.0,181.7 365.0,191.0 368.3,200.0 370.8,210.0 370.8,220.0 368.3,231.7 364.2,243.3 358.3,253.3 350.8,263.3 341.7,271.7 331.7,279.2 320.0,285.0 310.0,289.2 300.5,291.5"/>
<polyline stroke="#0000e8" points="300.5,291.4 295.5,292.3 291.0,295.3 287.0,299.6 283.0,304.0 279.5,308.2 275.5,312.5 272.0,316.5 268.8,321.0 266.3,325.5 265.0,331.0 265.0,337.0 266.6,342.5 270.2,348.0 275.5,352.6 281.8,355.6 289.2,357.7 295.0,358.8 300.4,359.1 305.5,358.2 314.7,356.7 321.3,353.3 327.2,348.3 331.3,343.3 334.2,338.3 335.0,333.3 334.7,328.3 333.0,324.2 330.0,320.0 326.5,315.5 323.0,311.0 319.5,306.5 316.0,302.0 312.5,297.8 308.5,294.3 304.5,292.2 300.5,291.4"/>
<polyline stroke="#f80000" points="300.5,291.5 311.8,289.9 323.5,287.0 335.4,283.0 347.1,278.0 358.7,272.2 370.4,265.9 380.4,259.7 390.4,253.3 402.1,244.7 412.1,237.2 422.1,228.8 432.1,220.5 440.4,212.2 448.3,201.7 454.2,190.0 457.5,180.0 458.3,171.5 457.5,163.3 454.2,154.2 448.3,146.7 440.0,139.2 430.0,132.5 420.0,126.7 410.0,123.0 400.0,119.7 390.0,117.5 380.0,116.3 370.0,116.1 360.0,117.3 346.7,120.0 333.3,124.2 321.7,130.0 310.0,138.5 300.0,149.5 291.7,160.8 285.0,171.7 280.0,181.0 276.7,190.0 274.2,200.0 271.7,210.0 269.2,221.5 266.5,232.0 265.3,243.3 266.3,253.3 269.2,263.3 274.2,273.3 281.7,281.7 290.0,288.3 296.7,291.0 300.5,291.5"/>
<polyline stroke="#f80000" points="300.5,291.4 294.2,292.1 289.2,295.0 285.0,299.2 281.7,303.3 279.2,307.5 276.7,311.7 273.8,315.8 271.0,320.0 268.3,325.0 266.7,330.8 266.7,336.7 268.3,341.7 271.7,346.7 276.7,351.2 282.5,355.0 289.2,357.5 295.0,358.8 300.4,359.2 306.3,359.2 318.0,358.8 326.3,355.8 334.7,350.0 341.3,342.5 343.0,336.7 340.7,330.0 336.3,324.4 333.0,320.8 329.7,316.7 326.3,312.5 323.0,307.5 319.7,303.3 315.9,299.2 311.3,295.0 306.3,292.1 300.5,291.4"/>
</g>
<g stroke="none" shape-rendering="crispEdges">
<rect fill="#f80000" x="447" y="556" width="35" height="3"/><rect fill="#f80000" x="446" y="557" width="37" height="1"/>
<rect fill="#0000e8" x="447" y="580" width="35" height="3"/><rect fill="#0000e8" x="446" y="581" width="37" height="1"/>
</g>
<g stroke="#000" stroke-width="0.3">
<text x="283" y="33.5" text-anchor="start" font-size="21" letter-spacing="0" font-family="Liberation Sans">180°</text><text x="294" y="561.5" text-anchor="start" font-size="21" letter-spacing="0.5" font-family="Liberation Sans">0°</text><text x="14" y="298" text-anchor="start" font-size="21" letter-spacing="0.5" font-family="Liberation Sans">90°</text><text x="554" y="298" text-anchor="start" font-size="21" letter-spacing="0.5" font-family="Liberation Sans">90°</text><text x="144" y="63.5" text-anchor="start" font-size="21" letter-spacing="0" font-family="Liberation Sans">150°</text><text x="414" y="63.5" text-anchor="start" font-size="21" letter-spacing="0" font-family="Liberation Sans">150°</text><text x="46" y="163" text-anchor="start" font-size="21" letter-spacing="0" font-family="Liberation Sans">120°</text><text x="513" y="162.7" text-anchor="start" font-size="21" letter-spacing="0" font-family="Liberation Sans">120°</text><text x="50" y="432.5" text-anchor="start" font-size="21" letter-spacing="0.5" font-family="Liberation Sans">60°</text><text x="518" y="432.5" text-anchor="start" font-size="21" letter-spacing="0.5" font-family="Liberation Sans">60°</text><text x="149" y="531" text-anchor="start" font-size="21" letter-spacing="0.5" font-family="Liberation Sans">30°</text><text x="419" y="531" text-anchor="start" font-size="21" letter-spacing="0.5" font-family="Liberation Sans">30°</text><text x="93.9" y="297.7" text-anchor="start" font-size="21" letter-spacing="0.5" font-family="Liberation Sans">300</text><text x="156.5" y="297.7" text-anchor="start" font-size="21" letter-spacing="0.5" font-family="Liberation Sans">200</text><text x="219.5" y="297.7" text-anchor="start" font-size="21" letter-spacing="0.5" font-family="Liberation Sans">100</text><text x="12.6" y="587.7" text-anchor="start" font-size="20.5" letter-spacing="-0.1" font-family="Liberation Sans">cd/klm</text><text x="539.2" y="22.6" text-anchor="start" font-size="21" letter-spacing="-0.2" font-family="Liberation Sans">100%</text><text x="528.3" y="25" text-anchor="start" font-size="21" letter-spacing="0" font-family="Liberation Sans">:</text><text transform="translate(514.8,24.3) scale(1.17,1)" font-size="20" font-family="Liberation Serif" style="font-family:'Liberation Serif',serif">η</text><text x="497.4" y="563.4" text-anchor="start" font-size="21" letter-spacing="0.15" font-family="Liberation Sans">C180 | C0</text><text x="485.1" y="588.4" text-anchor="start" font-size="21" letter-spacing="0.15" font-family="Liberation Sans">C270 | C90</text>
</g>
<path d="M0 0H600V600H0Z M3 3V597H597V3Z" fill="#000" fill-rule="evenodd" shape-rendering="crispEdges"/>
</svg>
</body></html>
